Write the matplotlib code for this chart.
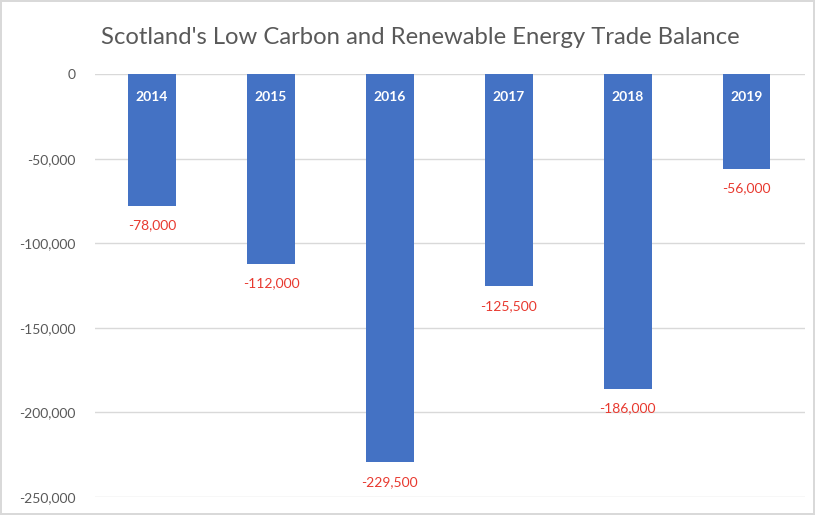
import matplotlib.pyplot as plt
from matplotlib.ticker import FuncFormatter

# data
years = ["2014", "2015", "2016", "2017", "2018", "2019"]
balance = [-78000, -112000, -229500, -125500, -186000, -56000]
yticks = [0, -50000, -100000, -150000, -200000, -250000]

plt.rcParams['font.family'] = ['Lato', 'DejaVu Sans']

fig = plt.figure(figsize=(8.15, 5.15), dpi=100)
fig.patch.set_edgecolor('#D9D9D9')
fig.patch.set_linewidth(1.5)
ax = fig.add_axes([0.1166, 0.035, 0.871, 0.821])

x = list(range(len(years)))
ax.bar(x, balance, width=0.40, color='#4472C4', zorder=3)

# year labels inside the bars, values under them
for i, (yr, v) in enumerate(zip(years, balance)):
    ax.text(i, -13500, yr, ha='center', va='center', color='white',
            fontsize=10, fontweight='bold', zorder=4)
    ax.annotate(f"{v:,}", (i, v), xytext=(0, -14), textcoords='offset points',
                ha='center', va='center', color='#E8392F', fontsize=10)

ax.set_xlim(-0.48, 5.49)
ax.set_ylim(-250000, 0)
ax.set_yticks(yticks)
ax.yaxis.set_major_formatter(FuncFormatter(lambda v, p: f"{int(v):,}"))
ax.set_xticks([])
ax.grid(axis='y', color='#D9D9D9', linewidth=1, zorder=0)
for s in ax.spines.values():
    s.set_visible(False)
ax.tick_params(axis='y', length=0, pad=14, labelcolor='#595959', labelsize=10)

fig.text(0.516, 0.928, "Scotland's Low Carbon and Renewable Energy Trade Balance",
         ha='center', va='center', fontsize=17.2, color='#595959')

fig.savefig('out.png', dpi=100)
